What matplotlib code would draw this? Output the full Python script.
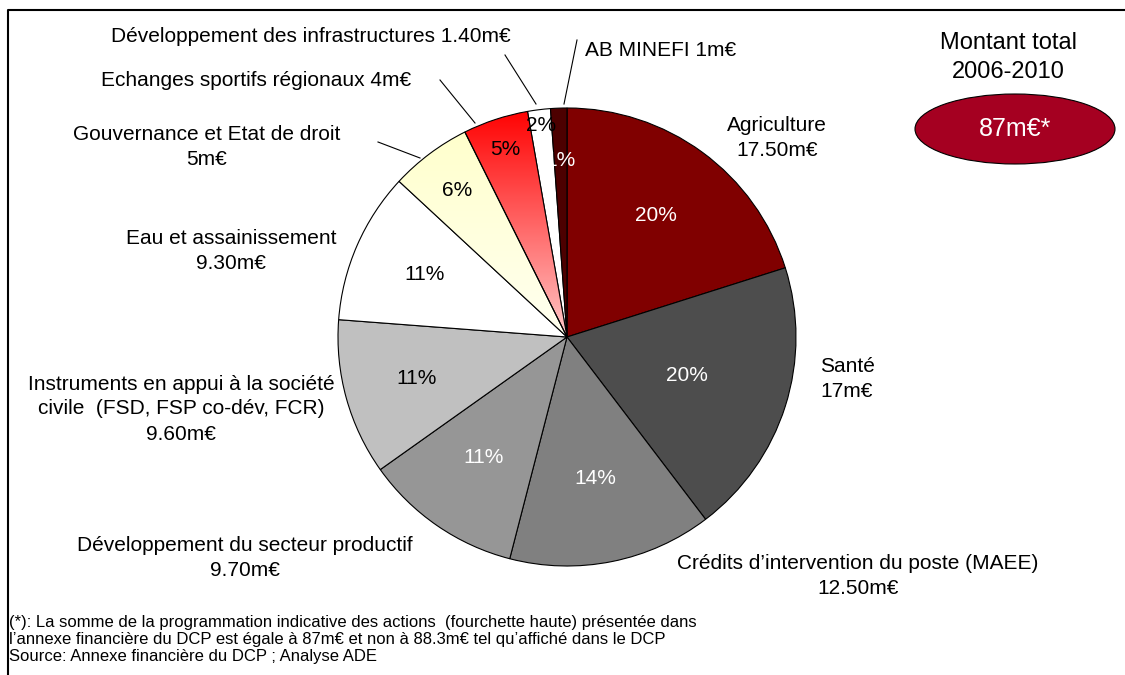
import numpy as np
import matplotlib.pyplot as plt
from matplotlib.patches import Ellipse

plt.rcParams['font.family'] = ['Liberation Sans', 'DejaVu Sans']

# data, clockwise from 12 o'clock
labels = ["Agriculture\n17.50m€", "Santé\n17m€",
          "Crédits d’intervention du poste (MAEE)\n12.50m€",
          "Développement du secteur productif\n9.70m€",
          "Instruments en appui à la société\ncivile  (FSD, FSP co-dév, FCR)\n9.60m€",
          "Eau et assainissement\n9.30m€",
          "Gouvernance et Etat de droit\n5m€",
          "Echanges sportifs régionaux 4m€",
          "Développement des infrastructures 1.40m€",
          "AB MINEFI 1m€"]
values = [17.5, 17.0, 12.5, 9.7, 9.6, 9.3, 5.0, 4.0, 1.4, 1.0]
colors = ['#800000', '#4d4d4d', '#808080', '#969696', '#c0c0c0',
          '#ffffff', '#ffffcc', '#ff2020', '#ffffff', '#4d0000']
pct_colors = ['white', 'white', 'white', 'white', 'black',
              'black', 'black', 'black', 'black', 'white']
total_label = "87m€*"

W, H = 1125, 675
fig = plt.figure(figsize=(W / 100, H / 100), dpi=100)

# pie axes, placed in pixels
cx, cy, r = 567, 337, 229
ax = fig.add_axes([(cx - r) / W, (H - cy - r) / H, 2 * r / W, 2 * r / H])

wedges, texts, autotexts = ax.pie(
    values, colors=colors, startangle=90, counterclock=False,
    autopct=lambda p: '%d%%' % round(p), pctdistance=0.62,
    wedgeprops=dict(edgecolor='black', linewidth=0.8),
    textprops=dict(fontsize=15))

# Excel-like placement of the percent labels
pct_dist = [0.66, 0.55, 0.63, 0.64, 0.68, 0.68, 0.8, 0.86, 0.93, 0.77]
frac = np.cumsum([0] + values) / sum(values)
for i, t in enumerate(autotexts):
    ang = np.deg2rad(90 - 360 * (frac[i] + frac[i + 1]) / 2)
    t.set_position((pct_dist[i] * np.cos(ang), pct_dist[i] * np.sin(ang)))
    t.set_color(pct_colors[i])

# gradient fills for the two small coloured slices
yy = np.linspace(0, 1, 200)[:, None]
def gradient(w, top, bottom):
    top = np.array(top) / 255
    bottom = np.array(bottom) / 255
    img = bottom + (top - bottom) * yy[..., None] * np.ones((1, 2, 1))
    im = ax.imshow(img, extent=(-1, 1, 0, 1), origin='lower', zorder=w.get_zorder() + 0.1)
    im.set_clip_path(w)
    w.set_facecolor('none')
    w.set_zorder(w.get_zorder() + 0.2)

gradient(wedges[7], (255, 0, 0), (255, 200, 200))
gradient(wedges[6], (255, 255, 200), (255, 255, 240))
for t in autotexts:
    t.set_zorder(10)

ax.set_xlim(-1, 1)
ax.set_ylim(-1, 1)
ax.set_aspect('auto')
ax.axis('off')

# overlay in pixel coordinates
ov = fig.add_axes([0, 0, 1, 1], facecolor='none')
ov.set_xlim(0, W)
ov.set_ylim(H, 0)
ov.axis('off')

lab_pos = [(777, 138), (847, 379), (858, 576), (245, 558), (181, 409),
           (231, 251), (207, 147), (256, 80), (311, 37), (661, 51)]
for lab, (x, y) in zip(labels, lab_pos):
    ov.text(x, y, lab, fontsize=15, ha='center', va='center', linespacing=1.4)

leaders = [((378, 142), (420, 158)), ((440, 80), (475, 123)),
           ((505, 55), (536, 104)), ((577, 40), (564, 104))]
for p0, p1 in leaders:
    ov.plot([p0[0], p1[0]], [p0[1], p1[1]], color='black', lw=0.8)

# total box
ov.text(1008, 43, "Montant total", fontsize=17, ha='center', va='center')
ov.text(1008, 72, "2006-2010", fontsize=17, ha='center', va='center')
ov.add_patch(Ellipse((1015, 129), 200, 70, facecolor='#a50021', edgecolor='black', lw=0.8))
ov.text(1015, 129, total_label, fontsize=18, color='white', ha='center', va='center')

# footnote
notes = ["(*): La somme de la programmation indicative des actions  (fourchette haute) présentée dans",
         "l’annexe financière du DCP est égale à 87m€ et non à 88.3m€ tel qu’affiché dans le DCP",
         "Source: Annexe financière du DCP ; Analyse ADE"]
for i, n in enumerate(notes):
    ov.text(9, 622 + 17.5 * i, n, fontsize=12, ha='left', va='center')

# frame
ov.plot([8, 8, W], [H, 10, 10], color='black', lw=1.5)

fig.savefig('out.png', dpi=100)
